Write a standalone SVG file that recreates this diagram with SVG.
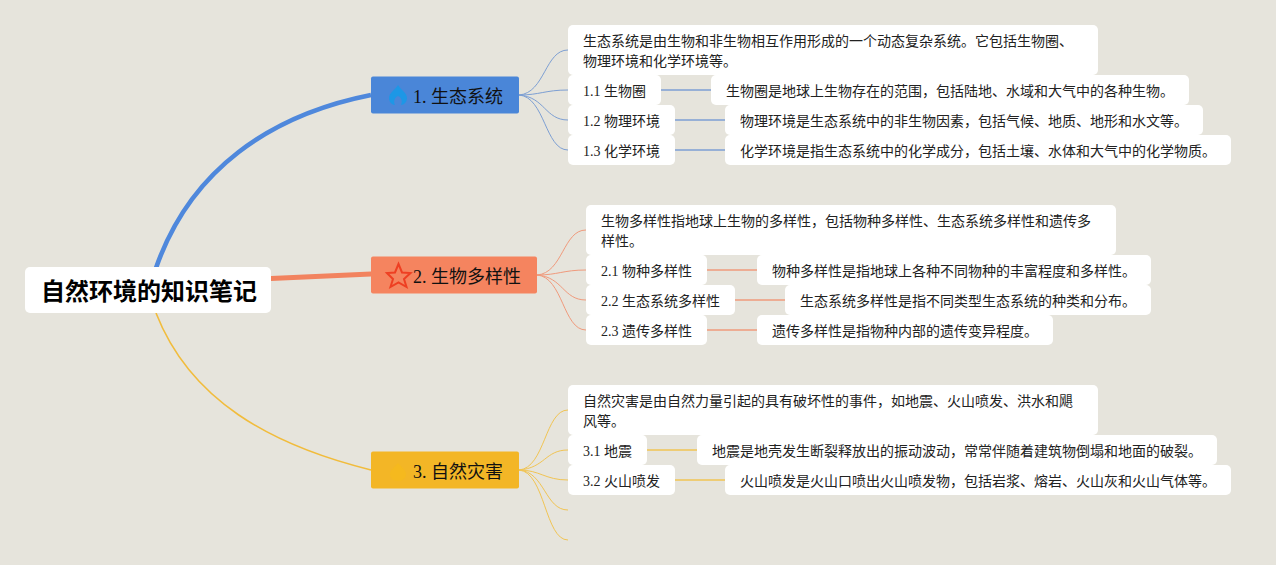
<svg xmlns="http://www.w3.org/2000/svg" width="1276" height="565" viewBox="0 0 1276 565">
<style>
text{font-family:"Liberation Serif","Noto Sans CJK SC",serif;font-size:14px;fill:#222}
.b{fill:#fff}
.t{font-size:18px;fill:#111}
.r{font-family:"Noto Sans CJK SC","Noto Sans",sans-serif;font-size:24px;font-weight:700;fill:#000}
.l{fill:none;stroke-width:1}
.s{fill:none;stroke-width:1.5}
.bl{stroke:#7d9fd3}.or{stroke:#f09a7c}.ye{stroke:#f1c453}
</style>
<rect width="1276" height="565" fill="#e6e4dc"/>
<g id="connectors">
<path d="M156 268C190 170 270 115 371 95" fill="none" stroke="#4f88dc" stroke-width="4.600"/>
<path d="M271 276L371 271.500L371 276.500L271 281Z" fill="#f2835f"/>
<path d="M156 313C190 400 270 445 371 470" fill="none" stroke="#f1bc3c" stroke-width="1.600"/>
<g class="bl">
<path class="l" d="M519 95C545 93 545 50 568 50"/>
<path class="l" d="M519 95C540 95 545 90 568 90"/>
<path class="l" d="M519 95C545 97 545 120 568 120"/>
<path class="l" d="M519 95C545 97 545 150 568 150"/>
<path class="s" d="M661 90H711M675 120H725M675 150H725"/>
</g>
<g class="or">
<path class="l" d="M537 275C563 273 563 230 586 230"/>
<path class="l" d="M537 275C558 275 563 270 586 270"/>
<path class="l" d="M537 275C563 277 563 300 586 300"/>
<path class="l" d="M537 275C563 277 563 330 586 330"/>
<path class="s" d="M707 270H757M735 300H785M707 330H757"/>
</g>
<g class="ye">
<path class="l" d="M519 470C545 468 545 410 568 410"/>
<path class="l" d="M519 470C545 468 545 450 568 450"/>
<path class="l" d="M519 470C540 470 545 480 568 480"/>
<path class="l" d="M519 470C545 472 545 510 568 510"/>
<path class="l" d="M519 470C545 472 545 540 568 540"/>
<path class="s" d="M647 450H697M675 480H725"/>
</g>
</g>
<g id="root"><rect class="b" x="25" y="267" width="246" height="46" rx="5"/><text class="r" x="41" y="300">自然环境的知识笔记</text></g>
<g id="topic1"><rect x="371" y="76.500" width="148" height="37" rx="2" fill="#4a86d8"/>
<path d="M398 85C401 90 407 93 407 98C407 102 404 105 401 105C403 101 401 97 398 96C395 97 393 101 395 105C392 105 389 102 389 98C389 93 395 90 398 85Z" fill="#1d97e6"/>
<text class="t" x="413" y="103">1. 生态系统</text></g>
<g id="n1d"><rect class="b" x="568" y="25" width="530" height="50" rx="5"/><text x="583" y="46">生态系统是由生物和非生物相互作用形成的一个动态复杂系统。它包括生物圈、</text><text x="583" y="66">物理环境和化学环境等。</text></g>
<g id="n11"><rect class="b" x="568" y="75" width="93" height="30" rx="5"/><text x="583" y="96">1.1 生物圈</text></g>
<g id="n11d"><rect class="b" x="711" y="75" width="478" height="30" rx="5"/><text x="726" y="96">生物圈是地球上生物存在的范围，包括陆地、水域和大气中的各种生物。</text></g>
<g id="n12"><rect class="b" x="568" y="105" width="107" height="30" rx="5"/><text x="583" y="126">1.2 物理环境</text></g>
<g id="n12d"><rect class="b" x="725" y="105" width="478" height="30" rx="5"/><text x="740" y="126">物理环境是生态系统中的非生物因素，包括气候、地质、地形和水文等。</text></g>
<g id="n13"><rect class="b" x="568" y="135" width="107" height="30" rx="5"/><text x="583" y="156">1.3 化学环境</text></g>
<g id="n13d"><rect class="b" x="725" y="135" width="506" height="30" rx="5"/><text x="740" y="156">化学环境是指生态系统中的化学成分，包括土壤、水体和大气中的化学物质。</text></g>
<g id="topic2"><rect x="371" y="256.500" width="166" height="37" rx="2" fill="#f5845f"/>
<path d="M398.500 264L402 272.500L410.500 273L404 279L406.500 287L398.500 282.500L390.500 287L393 279L387 273L395 272.500Z" fill="none" stroke="#ee3f22" stroke-width="2"/>
<text class="t" x="413" y="283">2. 生物多样性</text></g>
<g id="n2d"><rect class="b" x="586" y="205" width="530" height="50" rx="5"/><text x="601" y="226">生物多样性指地球上生物的多样性，包括物种多样性、生态系统多样性和遗传多</text><text x="601" y="246">样性。</text></g>
<g id="n21"><rect class="b" x="586" y="255" width="121" height="30" rx="5"/><text x="601" y="276">2.1 物种多样性</text></g>
<g id="n21d"><rect class="b" x="757" y="255" width="394" height="30" rx="5"/><text x="772" y="276">物种多样性是指地球上各种不同物种的丰富程度和多样性。</text></g>
<g id="n22"><rect class="b" x="586" y="285" width="149" height="30" rx="5"/><text x="601" y="306">2.2 生态系统多样性</text></g>
<g id="n22d"><rect class="b" x="785" y="285" width="366" height="30" rx="5"/><text x="800" y="306">生态系统多样性是指不同类型生态系统的种类和分布。</text></g>
<g id="n23"><rect class="b" x="586" y="315" width="121" height="30" rx="5"/><text x="601" y="336">2.3 遗传多样性</text></g>
<g id="n23d"><rect class="b" x="757" y="315" width="296" height="30" rx="5"/><text x="772" y="336">遗传多样性是指物种内部的遗传变异程度。</text></g>
<g id="topic3"><rect x="371" y="451.500" width="148" height="37" rx="2" fill="#f3b626"/>
<path d="M398 463C401 467 406 470 406 474C406 478 403 481 398 481C393 481 390 478 390 474C390 470 395 467 398 463Z" fill="#f5b91e"/>
<text class="t" x="413" y="478">3. 自然灾害</text></g>
<g id="n3d"><rect class="b" x="568" y="385" width="530" height="50" rx="5"/><text x="583" y="406">自然灾害是由自然力量引起的具有破坏性的事件，如地震、火山喷发、洪水和飓</text><text x="583" y="426">风等。</text></g>
<g id="n31"><rect class="b" x="568" y="435" width="79" height="30" rx="5"/><text x="583" y="456">3.1 地震</text></g>
<g id="n31d"><rect class="b" x="697" y="435" width="520" height="30" rx="5"/><text x="712" y="456">地震是地壳发生断裂释放出的振动波动，常常伴随着建筑物倒塌和地面的破裂。</text></g>
<g id="n32"><rect class="b" x="568" y="465" width="107" height="30" rx="5"/><text x="583" y="486">3.2 火山喷发</text></g>
<g id="n32d"><rect class="b" x="725" y="465" width="506" height="30" rx="5"/><text x="740" y="486">火山喷发是火山口喷出火山喷发物，包括岩浆、熔岩、火山灰和火山气体等。</text></g>
</svg>
